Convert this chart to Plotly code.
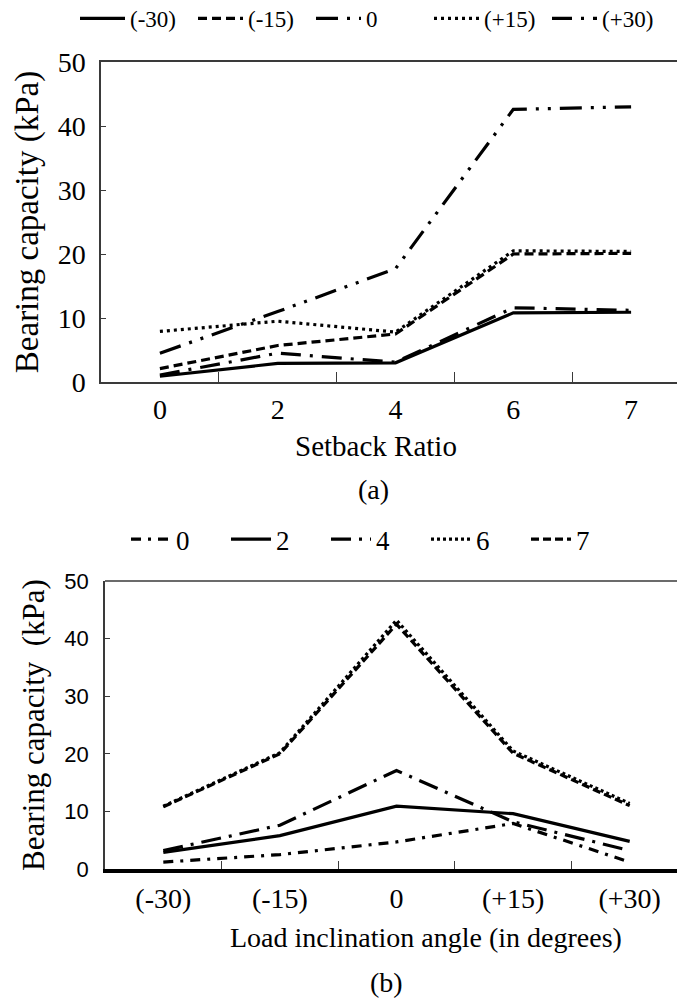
import plotly.graph_objects as go

# ---------------- data ----------------
setback_ratio = ["0", "2", "4", "6", "7"]
a_labels = ["(-30)", "(-15)", "0", "(+15)", "(+30)"]
a_m30 = [0.9, 2.9, 3.0, 10.8, 10.9]
a_m15 = [2.1, 5.7, 7.5, 20.0, 20.1]
a_0 = [4.5, 11.0, 17.7, 42.6, 43.0]
a_p15 = [7.9, 9.5, 7.8, 20.5, 20.4]
a_p30 = [1.1, 4.5, 3.1, 11.6, 11.2]

incl_angle = ["(-30)", "(-15)", "0", "(+15)", "(+30)"]
b_labels = ["0", "2", "4", "6", "7"]
b_0 = [1.2, 2.5, 4.7, 7.9, 1.2]
b_2 = [2.9, 5.8, 10.9, 9.6, 4.8]
b_4 = [3.2, 7.6, 17.1, 8.2, 3.2]
b_6 = [10.9, 20.2, 43.2, 20.5, 11.4]
b_7 = [10.8, 20.0, 42.5, 20.1, 11.0]

y_ticks = [0, 10, 20, 30, 40, 50]

# ---------------- styles ----------------
W, H = 685, 1006
SERIF = "Liberation Serif"
SANS = "Liberation Sans"
AX = "#3a3a3a"

a_series = [a_m30, a_m15, a_0, a_p15, a_p30]
a_dash = ["solid", "9px,5px", "22px,9px,3px,9px,3px,9px", "3px,4px", "20px,9px,3px,9px"]
b_series = [b_0, b_2, b_4, b_6, b_7]
b_dash = ["10px,7px,3px,7px", "solid", "20px,8px,3px,8px", "3px,3px", "8px,4px"]

fig = go.Figure()
for name, vals, d in zip(a_labels, a_series, a_dash):
    fig.add_trace(go.Scatter(x=setback_ratio, y=vals, mode="lines", name=name,
                             line=dict(color="black", width=3.2, dash=d),
                             xaxis="x", yaxis="y", legend="legend"))
for name, vals, d in zip(b_labels, b_series, b_dash):
    fig.add_trace(go.Scatter(x=incl_angle, y=vals, mode="lines", name=name,
                             line=dict(color="black", width=3.2, dash=d),
                             xaxis="x2", yaxis="y2", legend="legend2"))


def px_x(v):
    return v / W


def px_y(v):
    return 1 - v / H


fig.update_layout(
    width=W, height=H,
    margin=dict(l=0, r=0, t=0, b=0, autoexpand=False),
    paper_bgcolor="white", plot_bgcolor="white",
    font=dict(family=SERIF, color="black"),
    xaxis=dict(domain=[px_x(93), px_x(682)], anchor="y", type="category",
               range=[-0.5, 4.5], tickson="boundaries", ticks="inside", ticklen=10,
               tickcolor=AX, showline=True, linecolor=AX, linewidth=1.5, mirror=True,
               showgrid=False, zeroline=False, automargin=False,
               tickfont=dict(family=SERIF, size=28, color="black"),
               ticklabelstandoff=2),
    yaxis=dict(domain=[px_y(374), px_y(54)], anchor="x", range=[0, 50],
               tickvals=y_ticks, ticks="inside", ticklen=5, tickcolor=AX,
               showline=True, linecolor=AX, linewidth=1.5, mirror=True,
               showgrid=False, zeroline=False, automargin=False,
               tickfont=dict(family=SERIF, size=28, color="black"),
               ticklabelstandoff=8,
               title=dict(text="Bearing capacity (kPa)",
                          font=dict(family=SERIF, size=33, color="black"),
                          standoff=9)),
    xaxis2=dict(domain=[px_x(97), px_x(680)], anchor="y2", type="category",
                range=[-0.5, 4.5], tickson="boundaries", ticks="inside", ticklen=8,
                tickcolor=AX, showline=True, linecolor="black", linewidth=3.5,
                mirror=False, showgrid=False, zeroline=False, automargin=False,
                tickfont=dict(family=SERIF, size=28, color="black"),
                ticklabelstandoff=2),
    yaxis2=dict(domain=[px_y(861), px_y(573)], anchor="x2", range=[0, 50],
                tickvals=y_ticks, ticks="inside", ticklen=5, tickcolor=AX,
                showline=True, linecolor=AX, linewidth=1.5, mirror=True,
                showgrid=False, zeroline=False, automargin=False,
                tickfont=dict(family=SANS, size=22, color="black"),
                ticklabelstandoff=10,
                title=dict(text="Bearing capacity  (kPa)",
                           font=dict(family=SERIF, size=31, color="black"),
                           standoff=11)),
    legend=dict(orientation="h", xref="paper", yref="paper",
                x=px_x(67), y=px_y(-11), xanchor="left", yanchor="top",
                entrywidth=58, entrywidthmode="pixels", itemwidth=45,
                font=dict(family=SERIF, size=23, color="black"),
                bgcolor="rgba(0,0,0,0)"),
    legend2=dict(orientation="h", xref="paper", yref="paper",
                 x=px_x(118), y=px_y(507), xanchor="left", yanchor="top",
                 entrywidth=45, entrywidthmode="pixels", itemwidth=40,
                 font=dict(family=SERIF, size=27, color="black"),
                 bgcolor="rgba(0,0,0,0)"),
    shapes=[dict(type="line", xref="x2 domain", yref="y2 domain",
                 x0=0, x1=1, y0=1, y1=1, line=dict(color=AX, width=1.5))],
    annotations=[
        dict(text="Setback Ratio", x=px_x(368), y=px_y(438), xref="paper", yref="paper",
             showarrow=False, font=dict(family=SERIF, size=29, color="black")),
        dict(text="(a)", x=px_x(366), y=px_y(481), xref="paper", yref="paper",
             showarrow=False, font=dict(family=SERIF, size=28, color="black")),
        dict(text="Load inclination angle (in degrees)", x=px_x(418), y=px_y(947),
             xref="paper", yref="paper", showarrow=False,
             font=dict(family=SERIF, size=28, color="black")),
        dict(text="(b)", x=px_x(378), y=px_y(992), xref="paper", yref="paper",
             showarrow=False, font=dict(family=SERIF, size=28, color="black")),
    ],
)

fig.write_html("out.html")
